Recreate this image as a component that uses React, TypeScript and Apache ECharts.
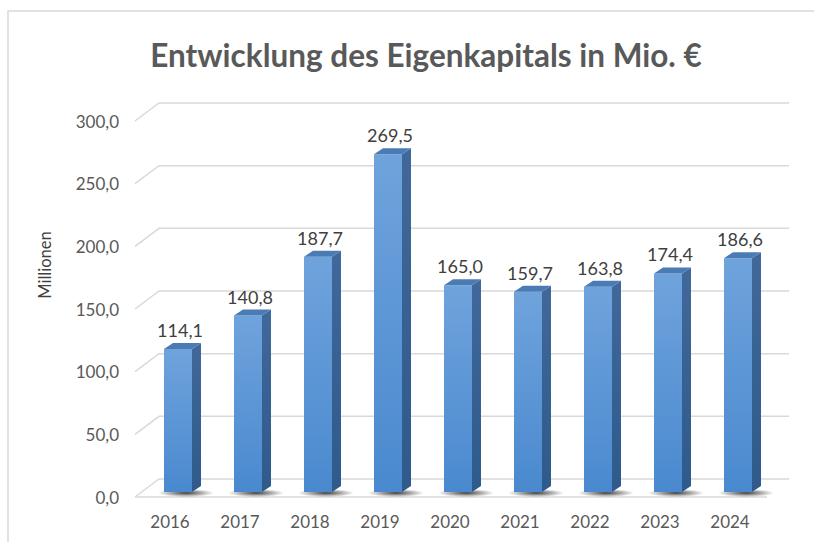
import React, { useEffect, useRef } from "react";
import * as echarts from "echarts";

const years = ["2016", "2017", "2018", "2019", "2020", "2021", "2022", "2023", "2024"];
const equity = [114.1, 140.8, 187.7, 269.5, 165.0, 159.7, 163.8, 174.4, 186.6];
const yTicks = [0, 50, 100, 150, 200, 250, 300];
const titleText = "Entwicklung des Eigenkapitals in Mio. €";
const axisName = "Millionen";

const FONT = "Lato, 'Open Sans', sans-serif";
const fmt = (v: number) => v.toFixed(1).replace(".", ",");

export default function App() {
  const ref = useRef<HTMLDivElement>(null);
  useEffect(() => {
    if (!ref.current) return;
    const chart = echarts.init(ref.current, undefined, { renderer: "svg" });
    const DX = 24; // depth offset for back wall
    const DY = -18;
    const BX = 8; // bar front offset
    const BY = -5;
    const SX = 9; // bar side depth
    const SY = -6;

    const option: any = {
      animation: false,
      backgroundColor: "#ffffff",
      grid: { left: 135, right: 49, top: 121, bottom: 45, containLabel: false },
      graphic: [
        {
          type: "rect",
          shape: { x: 8, y: 11, width: 830, height: 560 },
          style: { fill: "none", stroke: "#d9d9d9", lineWidth: 1.5 },
          z: -10,
        },
        {
          type: "text",
          x: 426,
          y: 55,
          style: {
            text: titleText,
            fill: "#595959",
            font: `bold 31.5px ${FONT}`,
            textAlign: "center",
            textVerticalAlign: "middle",
          },
        },
        {
          type: "text",
          x: 45,
          y: 265,
          rotation: Math.PI / 2,
          style: {
            text: axisName,
            fill: "#404040",
            font: `16.5px ${FONT}`,
            textAlign: "center",
            textVerticalAlign: "middle",
          },
        },
      ],
      xAxis: {
        type: "category",
        data: years,
        axisLine: { show: false },
        axisTick: { show: false },
        axisLabel: { color: "#595959", fontSize: 17, fontFamily: FONT, margin: 16 },
      },
      yAxis: {
        type: "value",
        min: 0,
        max: 300,
        interval: 50,
        axisLine: { show: false },
        axisTick: { show: false },
        splitLine: { show: false },
        axisLabel: {
          color: "#595959",
          fontSize: 17,
          fontFamily: FONT,
          margin: 16,
          formatter: (v: number) => fmt(v),
        },
      },
      series: [
        {
          type: "custom",
          z: 1,
          silent: true,
          data: yTicks.map((v) => [0, v]),
          renderItem: (params: any, api: any) => {
            const cs = params.coordSys;
            const v = api.value(1);
            const y = api.coord([0, v])[1];
            const left = cs.x;
            const right = cs.x + cs.width;
            const children: any[] = [
              {
                type: "polyline",
                shape: {
                  points: [
                    [left, y],
                    [left + DX, y + DY],
                    [right + DX, y + DY],
                  ],
                },
                style: { stroke: "#d9d9d9", lineWidth: 1.5, fill: "none" },
              },
            ];
            if (v === 0) {
              children.push({
                type: "line",
                shape: { x1: left, y1: y, x2: right + 2, y2: y },
                style: { stroke: "#d9d9d9", lineWidth: 1.5 },
              });
            }
            return { type: "group", children };
          },
        },
        {
          type: "custom",
          z: 2,
          data: equity.map((v, i) => [i, v]),
          renderItem: (params: any, api: any) => {
            const idx = api.value(0);
            const v = api.value(1);
            const c = api.coord([idx, v]);
            const base = api.coord([idx, 0]);
            const bw = api.size([1, 0])[0] * 0.4;
            const cx = c[0] + BX;
            const x0 = cx - bw / 2;
            const x1 = cx + bw / 2;
            const yT = c[1] + BY;
            const yB = base[1] + BY;
            return {
              type: "group",
              children: [
                {
                  type: "ellipse",
                  shape: { cx: cx + 8, cy: yB + 1, rx: bw * 1.0, ry: 4 },
                  style: {
                    fill: new echarts.graphic.RadialGradient(0.5, 0.5, 0.5, [
                      { offset: 0, color: "rgba(30,30,30,0.85)" },
                      { offset: 1, color: "rgba(30,30,30,0)" },
                    ]),
                  },
                },
                {
                  type: "rect",
                  shape: { x: x0, y: yT, width: bw, height: yB - yT },
                  style: {
                    fill: new echarts.graphic.LinearGradient(0, 0, 0, 1, [
                      { offset: 0, color: "#6fa3dc" },
                      { offset: 1, color: "#4a89cf" },
                    ]),
                  },
                },
                {
                  type: "polygon",
                  shape: {
                    points: [
                      [x1, yT],
                      [x1 + SX, yT + SY],
                      [x1 + SX, yB + SY],
                      [x1, yB],
                    ],
                  },
                  style: {
                    fill: new echarts.graphic.LinearGradient(0, 0, 0, 1, [
                      { offset: 0, color: "#41689a" },
                      { offset: 1, color: "#2e5a8c" },
                    ]),
                  },
                },
                {
                  type: "polygon",
                  shape: {
                    points: [
                      [x0, yT],
                      [x0 + SX, yT + SY],
                      [x1 + SX, yT + SY],
                      [x1, yT],
                    ],
                  },
                  style: { fill: "#4a7bb5" },
                },
                {
                  type: "text",
                  x: cx + 2,
                  y: yT - 19,
                  style: {
                    text: fmt(v),
                    fill: "#404040",
                    font: `18px ${FONT}`,
                    textAlign: "center",
                    textVerticalAlign: "middle",
                  },
                },
              ],
            };
          },
        },
      ],
    };
    chart.setOption(option);
    return () => chart.dispose();
  }, []);
  return (
    <div
      ref={ref}
      style={{ position: "fixed", left: 0, top: 0, width: 814, height: 542 }}
    />
  );
}
